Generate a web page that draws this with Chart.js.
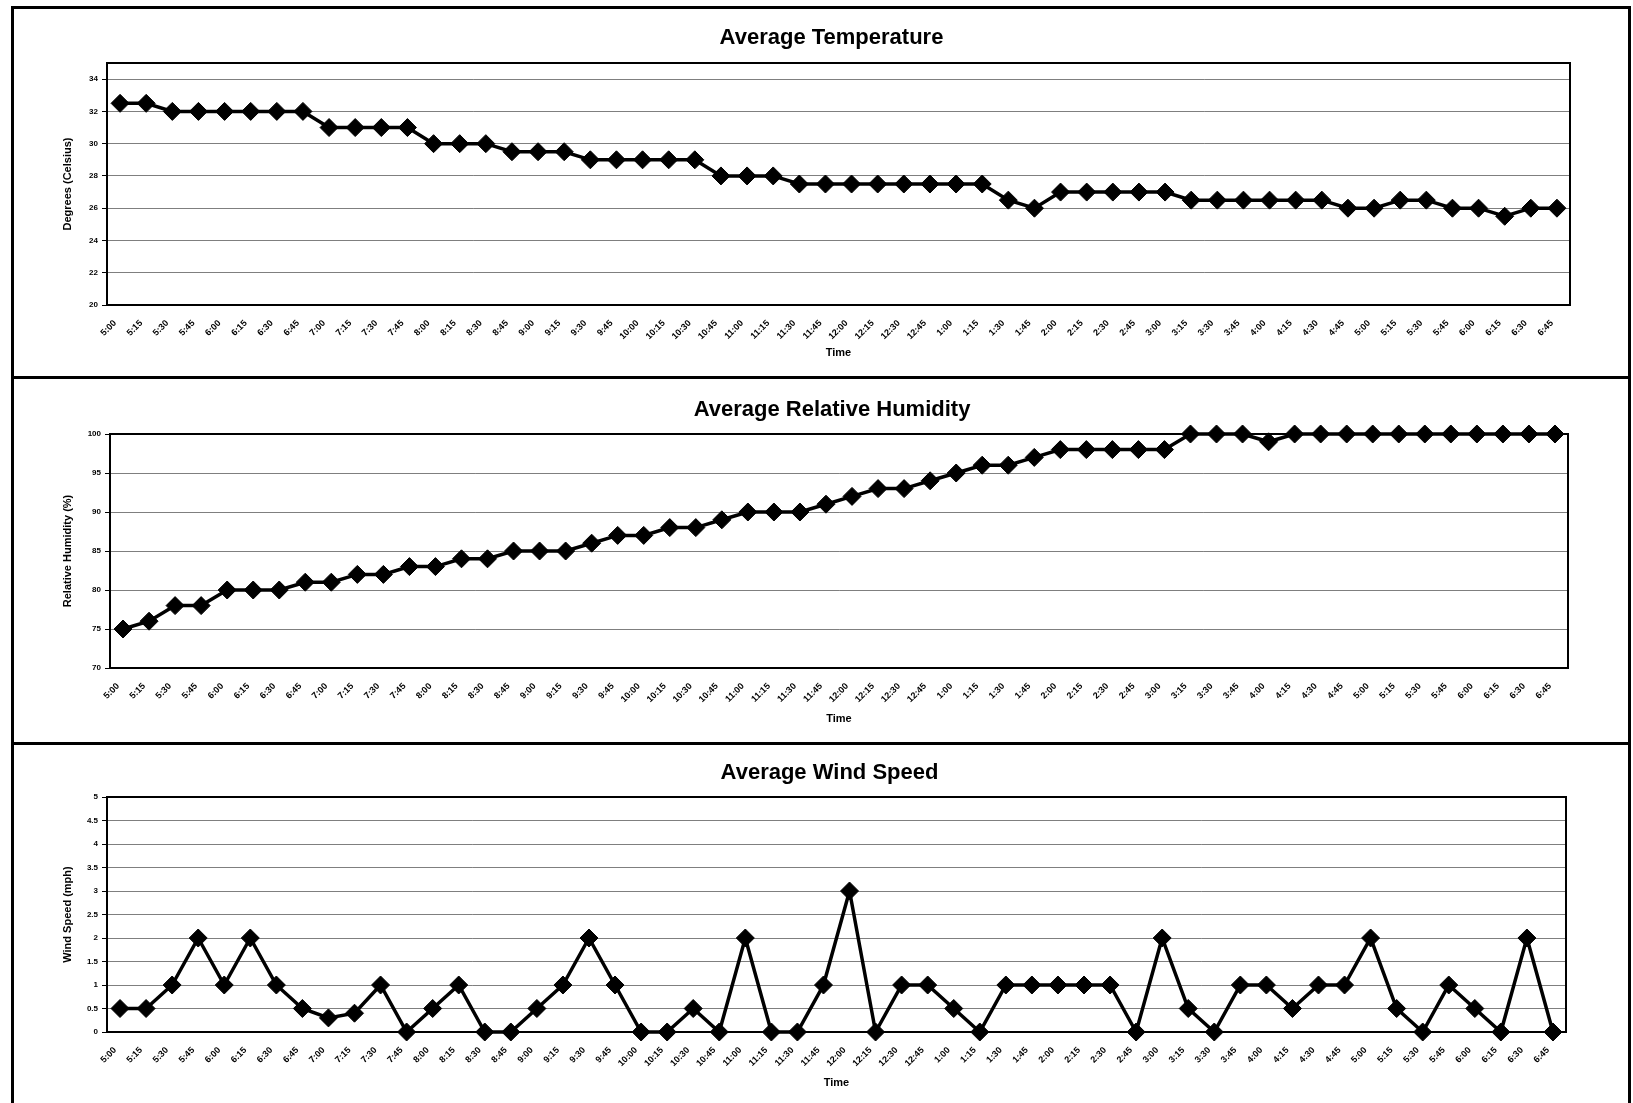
<!DOCTYPE html>
<html>
<head>
<meta charset="utf-8">
<script src="https://cdn.jsdelivr.net/npm/chart.js@4.4.1/dist/chart.umd.min.js"></script>
<style>
  html, body { margin: 0; padding: 0; background: #fff; }
  body { width: 1633px; height: 1103px; position: relative; overflow: hidden; }
  canvas { position: absolute; left: 0; }
  .rule { position: absolute; background: #000; }
</style>
</head>
<body>
<canvas id="tempChart" style="top:0px" width="1633" height="378"></canvas>
<canvas id="humChart" style="top:378px" width="1633" height="367"></canvas>
<canvas id="windChart" style="top:745px" width="1633" height="358"></canvas>

<!-- panel frame lines of the scanned page -->
<div class="rule" style="left:11px;top:6px;width:3px;height:1097px"></div>
<div class="rule" style="left:1628px;top:6px;width:3px;height:1097px"></div>
<div class="rule" style="left:11px;top:6px;width:1620px;height:3px"></div>
<div class="rule" style="left:11px;top:376px;width:1620px;height:3px"></div>
<div class="rule" style="left:11px;top:742px;width:1620px;height:3px"></div>

<script>
// time of day, every 15 minutes
const timeLabels = ['5:00','5:15','5:30','5:45','6:00','6:15','6:30','6:45','7:00','7:15','7:30','7:45',
  '8:00','8:15','8:30','8:45','9:00','9:15','9:30','9:45','10:00','10:15','10:30','10:45',
  '11:00','11:15','11:30','11:45','12:00','12:15','12:30','12:45','1:00','1:15','1:30','1:45',
  '2:00','2:15','2:30','2:45','3:00','3:15','3:30','3:45','4:00','4:15','4:30','4:45',
  '5:00','5:15','5:30','5:45','6:00','6:15','6:30','6:45'];

const temperature = [32.5,32.5,32,32,32,32,32,32,31,31,31,31,30,30,30,29.5,29.5,29.5,29,29,29,29,29,28,
  28,28,27.5,27.5,27.5,27.5,27.5,27.5,27.5,27.5,26.5,26,27,27,27,27,27,26.5,26.5,26.5,26.5,26.5,26.5,26,
  26,26.5,26.5,26,26,25.5,26,26];

const humidity = [75,76,78,78,80,80,80,81,81,82,82,83,83,84,84,85,85,85,86,87,87,88,88,89,
  90,90,90,91,92,93,93,94,95,96,96,97,98,98,98,98,98,100,100,100,99,100,100,100,
  100,100,100,100,100,100,100,100];

const windSpeed = [0.5,0.5,1,2,1,2,1,0.5,0.3,0.4,1,0,0.5,1,0,0,0.5,1,2,1,0,0,0.5,0,
  2,0,0,1,3,0,1,1,0.5,0,1,1,1,1,1,0,2,0.5,0,1,1,0.5,1,1,
  2,0.5,0,1,0.5,0,2,0];

const tempTicks = [20,22,24,26,28,30,32,34];
const humidityTicks = [70,75,80,85,90,95,100];
const windTicks = [0,0.5,1,1.5,2,2.5,3,3.5,4,4.5,5];

const FONT = "'Liberation Sans', Arial, Helvetica, sans-serif";

// black frame round the plot area
const plotFrame = {
  id: 'plotFrame',
  beforeDatasetsDraw(chart) {
    const a = chart.chartArea, ctx = chart.ctx;
    ctx.save();
    ctx.strokeStyle = '#000';
    ctx.lineWidth = 2;
    ctx.strokeRect(a.left, a.top, a.right - a.left, a.bottom - a.top);
    ctx.restore();
  }
};

// chart heading, centred a little left of the plot centre like the scan
const heading = {
  id: 'heading',
  afterDraw(chart, args, opts) {
    const a = chart.chartArea, ctx = chart.ctx;
    ctx.save();
    ctx.fillStyle = '#000';
    ctx.font = 'bold 22px ' + FONT;
    ctx.textAlign = 'center';
    ctx.textBaseline = 'middle';
    ctx.fillText(opts.text, (a.left + a.right) / 2 - 7, opts.y);
    ctx.restore();
  }
};

function makeChart(id, o) {
  return new Chart(document.getElementById(id), {
    type: 'line',
    data: {
      labels: timeLabels,
      datasets: [{
        data: o.values,
        borderColor: '#000',
        backgroundColor: '#000',
        borderWidth: 3.5,
        pointStyle: 'rectRot',
        pointRadius: 9,
        pointBorderWidth: 1,
        pointBackgroundColor: '#000',
        pointBorderColor: '#000',
        tension: 0,
        clip: false
      }]
    },
    options: {
      responsive: false,
      animation: false,
      events: [],
      layout: { padding: { left: 57, right: o.right, top: o.top, bottom: o.bottom } },
      plugins: {
        legend: { display: false },
        tooltip: { enabled: false },
        title: { display: false },
        heading: { text: o.title, y: o.titleY }
      },
      scales: {
        x: {
          offset: true,
          grid: { display: false },
          border: { display: true, color: '#000', width: 2 },
          ticks: {
            autoSkip: false, minRotation: 45, maxRotation: 45,
            labelOffset: -5, padding: 5,
            color: '#000', font: { family: FONT, size: 9, weight: 'bold' }
          },
          title: {
            display: true, text: 'Time', color: '#000',
            font: { family: FONT, size: 11, weight: 'bold' },
            padding: { top: 4, bottom: 4 }
          },
          afterFit(s) { s.height = o.xHeight; }
        },
        y: {
          min: o.min, max: o.max,
          afterBuildTicks(s) { s.ticks = o.ticks.map(v => ({ value: v })); },
          grid: {
            color: 'rgba(0,0,0,0.5)', lineWidth: 1, borderDash: [2, 3],
            drawTicks: true, tickLength: 5, tickColor: '#000', tickBorderDash: []
          },
          border: { display: true, color: '#000', width: 2 },
          ticks: {
            padding: 4, color: '#000',
            font: { family: FONT, size: 8, weight: 'bold' },
            callback: v => String(v)
          },
          title: {
            display: true, text: o.yTitle, color: '#000',
            font: { family: FONT, size: 11, weight: 'bold' },
            padding: { top: 4, bottom: 4 }
          },
          afterFit(s) { s.width = o.yWidth; }
        }
      }
    },
    plugins: [plotFrame, heading]
  });
}

makeChart('tempChart', {
  title: 'Average Temperature', yTitle: 'Degrees (Celsius)',
  values: temperature, ticks: tempTicks, min: 20, max: 35,
  titleY: 38, top: 63, yWidth: 50, xHeight: 59, right: 63, bottom: 14
});

makeChart('humChart', {
  title: 'Average Relative Humidity', yTitle: 'Relative Humidity (%)',
  values: humidity, ticks: humidityTicks, min: 70, max: 100,
  titleY: 32, top: 56, yWidth: 53, xHeight: 62, right: 65, bottom: 15
});

makeChart('windChart', {
  title: 'Average Wind Speed', yTitle: 'Wind Speed (mph)',
  values: windSpeed, ticks: windTicks, min: 0, max: 5,
  titleY: 28, top: 52, yWidth: 50, xHeight: 62, right: 67, bottom: 9
});
</script>
</body>
</html>
